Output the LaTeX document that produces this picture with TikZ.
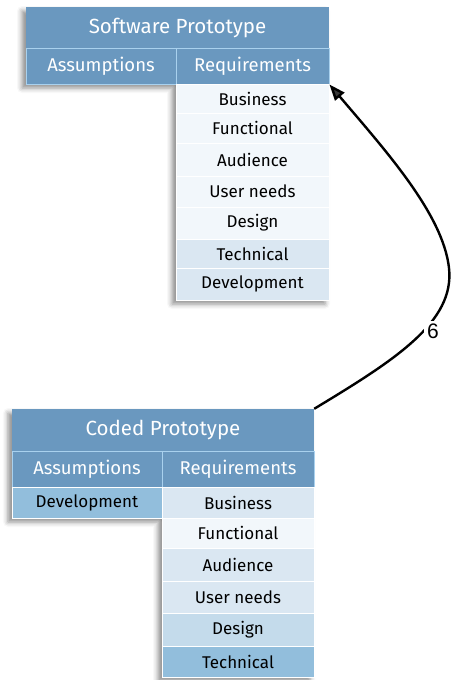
\documentclass[tikz,border=0pt]{standalone}
\usepackage{fontspec}
\setmainfont{Fira Sans}
\newfontfamily\labelfont{Liberation Sans}
\usetikzlibrary{arrows.meta,shadows.blur}

\definecolor{headblue}{HTML}{6A98BF}
\definecolor{headline}{HTML}{A9D1EE}
\definecolor{pale}{HTML}{F2F7FB}
\definecolor{soft}{HTML}{DAE7F2}
\definecolor{mid}{HTML}{C4DBEB}
\definecolor{deep}{HTML}{92BEDC}
\definecolor{ink}{HTML}{000000}

\tikzset{
  cell/.style={draw=white, line width=0.8pt, inner sep=0pt, text=ink,
    font=\fontsize{17}{17}\selectfont, minimum width=153pt},
  headcell/.style={draw=headline, line width=1pt, fill=headblue, inner sep=0pt,
    text=white, font=\fontsize{18.5}{18.5}\selectfont, minimum width=150pt, minimum height=36pt},
  titlecell/.style={fill=headblue, inner sep=0pt, text=white,
    font=\fontsize{20.5}{20.5}\selectfont, minimum width=303pt},
  outline/.style={fill=white, blur shadow={shadow xshift=-4pt, shadow yshift=-4pt,
    shadow blur radius=5pt, shadow opacity=45}},
  link/.style={line width=2.4pt, -{Triangle[length=16pt,width=12pt]}},
}

\begin{document}
\begin{tikzpicture}[x=1pt,y=-1pt]
\useasboundingbox (0,0) rectangle (450,680);

% ---- Software Prototype table ----
\path[outline] (26,7) -- (329,7) -- (329,300) -- (176,300) -- (176,84) -- (26,84) -- cycle;
\node[titlecell, minimum height=41pt] (st) at (177.5,27.5) {Software Prototype};
\node[headcell] (sass) at (101,66) {Assumptions};
\node[headcell, minimum width=153pt] (sreq) at (252.5,66) {Requirements};
\node[cell, fill=pale, minimum height=29pt] (s1) at (252.5,98.5) {Business};
\node[cell, fill=pale, minimum height=30pt] (s2) at (252.5,128) {Functional};
\node[cell, fill=pale, minimum height=33pt] (s3) at (252.5,159.5) {Audience};
\node[cell, fill=pale, minimum height=31pt] (s4) at (252.5,191.5) {User needs};
\node[cell, fill=pale, minimum height=32pt] (s5) at (252.5,223) {Design};
\node[cell, fill=soft, minimum height=29pt] (s6) at (252.5,253.5) {Technical};
\node[cell, fill=soft, minimum height=32pt] (s7) at (252.5,284) {Development};
\draw[headline, line width=1pt] (st.south west) -- (st.south east);

% ---- Coded Prototype table ----
\path[outline] (12,409) -- (314,409) -- (314,677) -- (162,677) -- (162,518) -- (12,518) -- cycle;
\node[titlecell, minimum width=302pt, minimum height=42pt] (ct) at (163,430) {Coded Prototype};
\node[headcell] (cass) at (87,469) {Assumptions};
\node[headcell, minimum width=152pt] (creq) at (238,469) {Requirements};
\node[cell, fill=deep, minimum width=150pt, minimum height=31pt] (cdev) at (87,502.5) {Development};
\node[cell, fill=soft, minimum width=152pt, minimum height=31pt] (c1) at (238,502.5) {Business};
\node[cell, fill=pale, minimum width=152pt, minimum height=30pt] (c2) at (238,533) {Functional};
\node[cell, fill=soft, minimum width=152pt, minimum height=33pt] (c3) at (238,564.5) {Audience};
\node[cell, fill=soft, minimum width=152pt, minimum height=32pt] (c4) at (238,597) {User needs};
\node[cell, fill=mid, minimum width=152pt, minimum height=33pt] (c5) at (238,629.5) {Design};
\node[cell, fill=deep, minimum width=152pt, minimum height=31pt] (c6) at (238,661.5) {Technical};
\draw[headline, line width=1pt] (ct.south west) -- (ct.south east);

% ---- connector ----
\coordinate (bend) at (449,268);
\draw[link] (ct.north east) .. controls (395,360) and (455,322) .. (bend)
  .. controls (443,214) and (385,150) .. (sreq.south east);
\node[fill=white, inner sep=3pt, font=\labelfont\fontsize{21}{21}\selectfont] (lbl) at (433,331) {6};
\end{tikzpicture}
\end{document}
